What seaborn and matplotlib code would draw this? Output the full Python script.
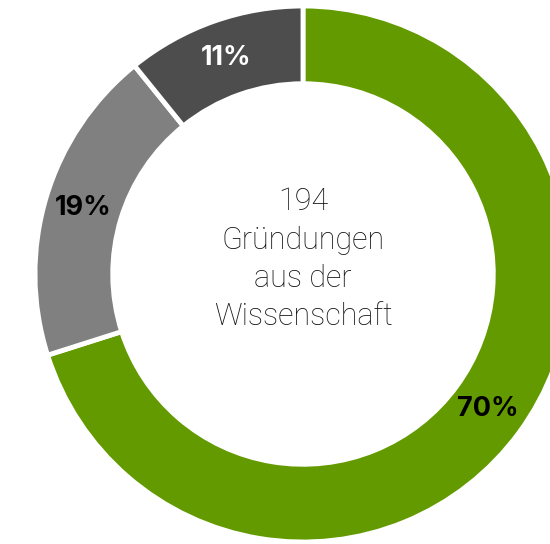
import matplotlib
matplotlib.use('Agg')
import matplotlib.pyplot as plt
import seaborn as sns

# Gründungen aus der Wissenschaft, split into three groups
labels = ['Gruppe A', 'Gruppe B', 'Gruppe C']
counts = [136, 37, 21]
colors = ['#639a00', '#808080', '#4d4d4d']
label_colors = ['black', 'black', 'white']
total = 194

sns.set_theme(style='white')
plt.rcParams['font.family'] = ['Inter', 'DejaVu Sans']

fig = plt.figure(figsize=(5.5, 5.44), dpi=100)
ax = fig.add_axes([0, 0, 1, 1])

wedges, texts, autotexts = ax.pie(
    counts, colors=colors, startangle=90, counterclock=False,
    autopct='%1.0f%%', pctdistance=0.855, radius=1,
    wedgeprops=dict(width=0.29, edgecolor='white', linewidth=3.5),
    textprops=dict(fontsize=19.5, fontweight='bold'))
for t, c in zip(autotexts, label_colors):
    t.set_color(c)

ax.text(0, 0.055, f'{total}\nGründungen\naus der\nWissenschaft',
        ha='center', va='center', fontsize=22, fontweight='light',
        family=['Roboto', 'DejaVu Sans'], color='#111111', linespacing=1.4)

# centre sits at (303, 274) px, radius ~268 px; right side is cropped
ax.set_aspect('auto')
ax.set_xlim(-303 / 268, 247 / 268)
ax.set_ylim(-270 / 268, 274 / 268)
ax.axis('off')

fig.savefig('out.png', dpi=100)
